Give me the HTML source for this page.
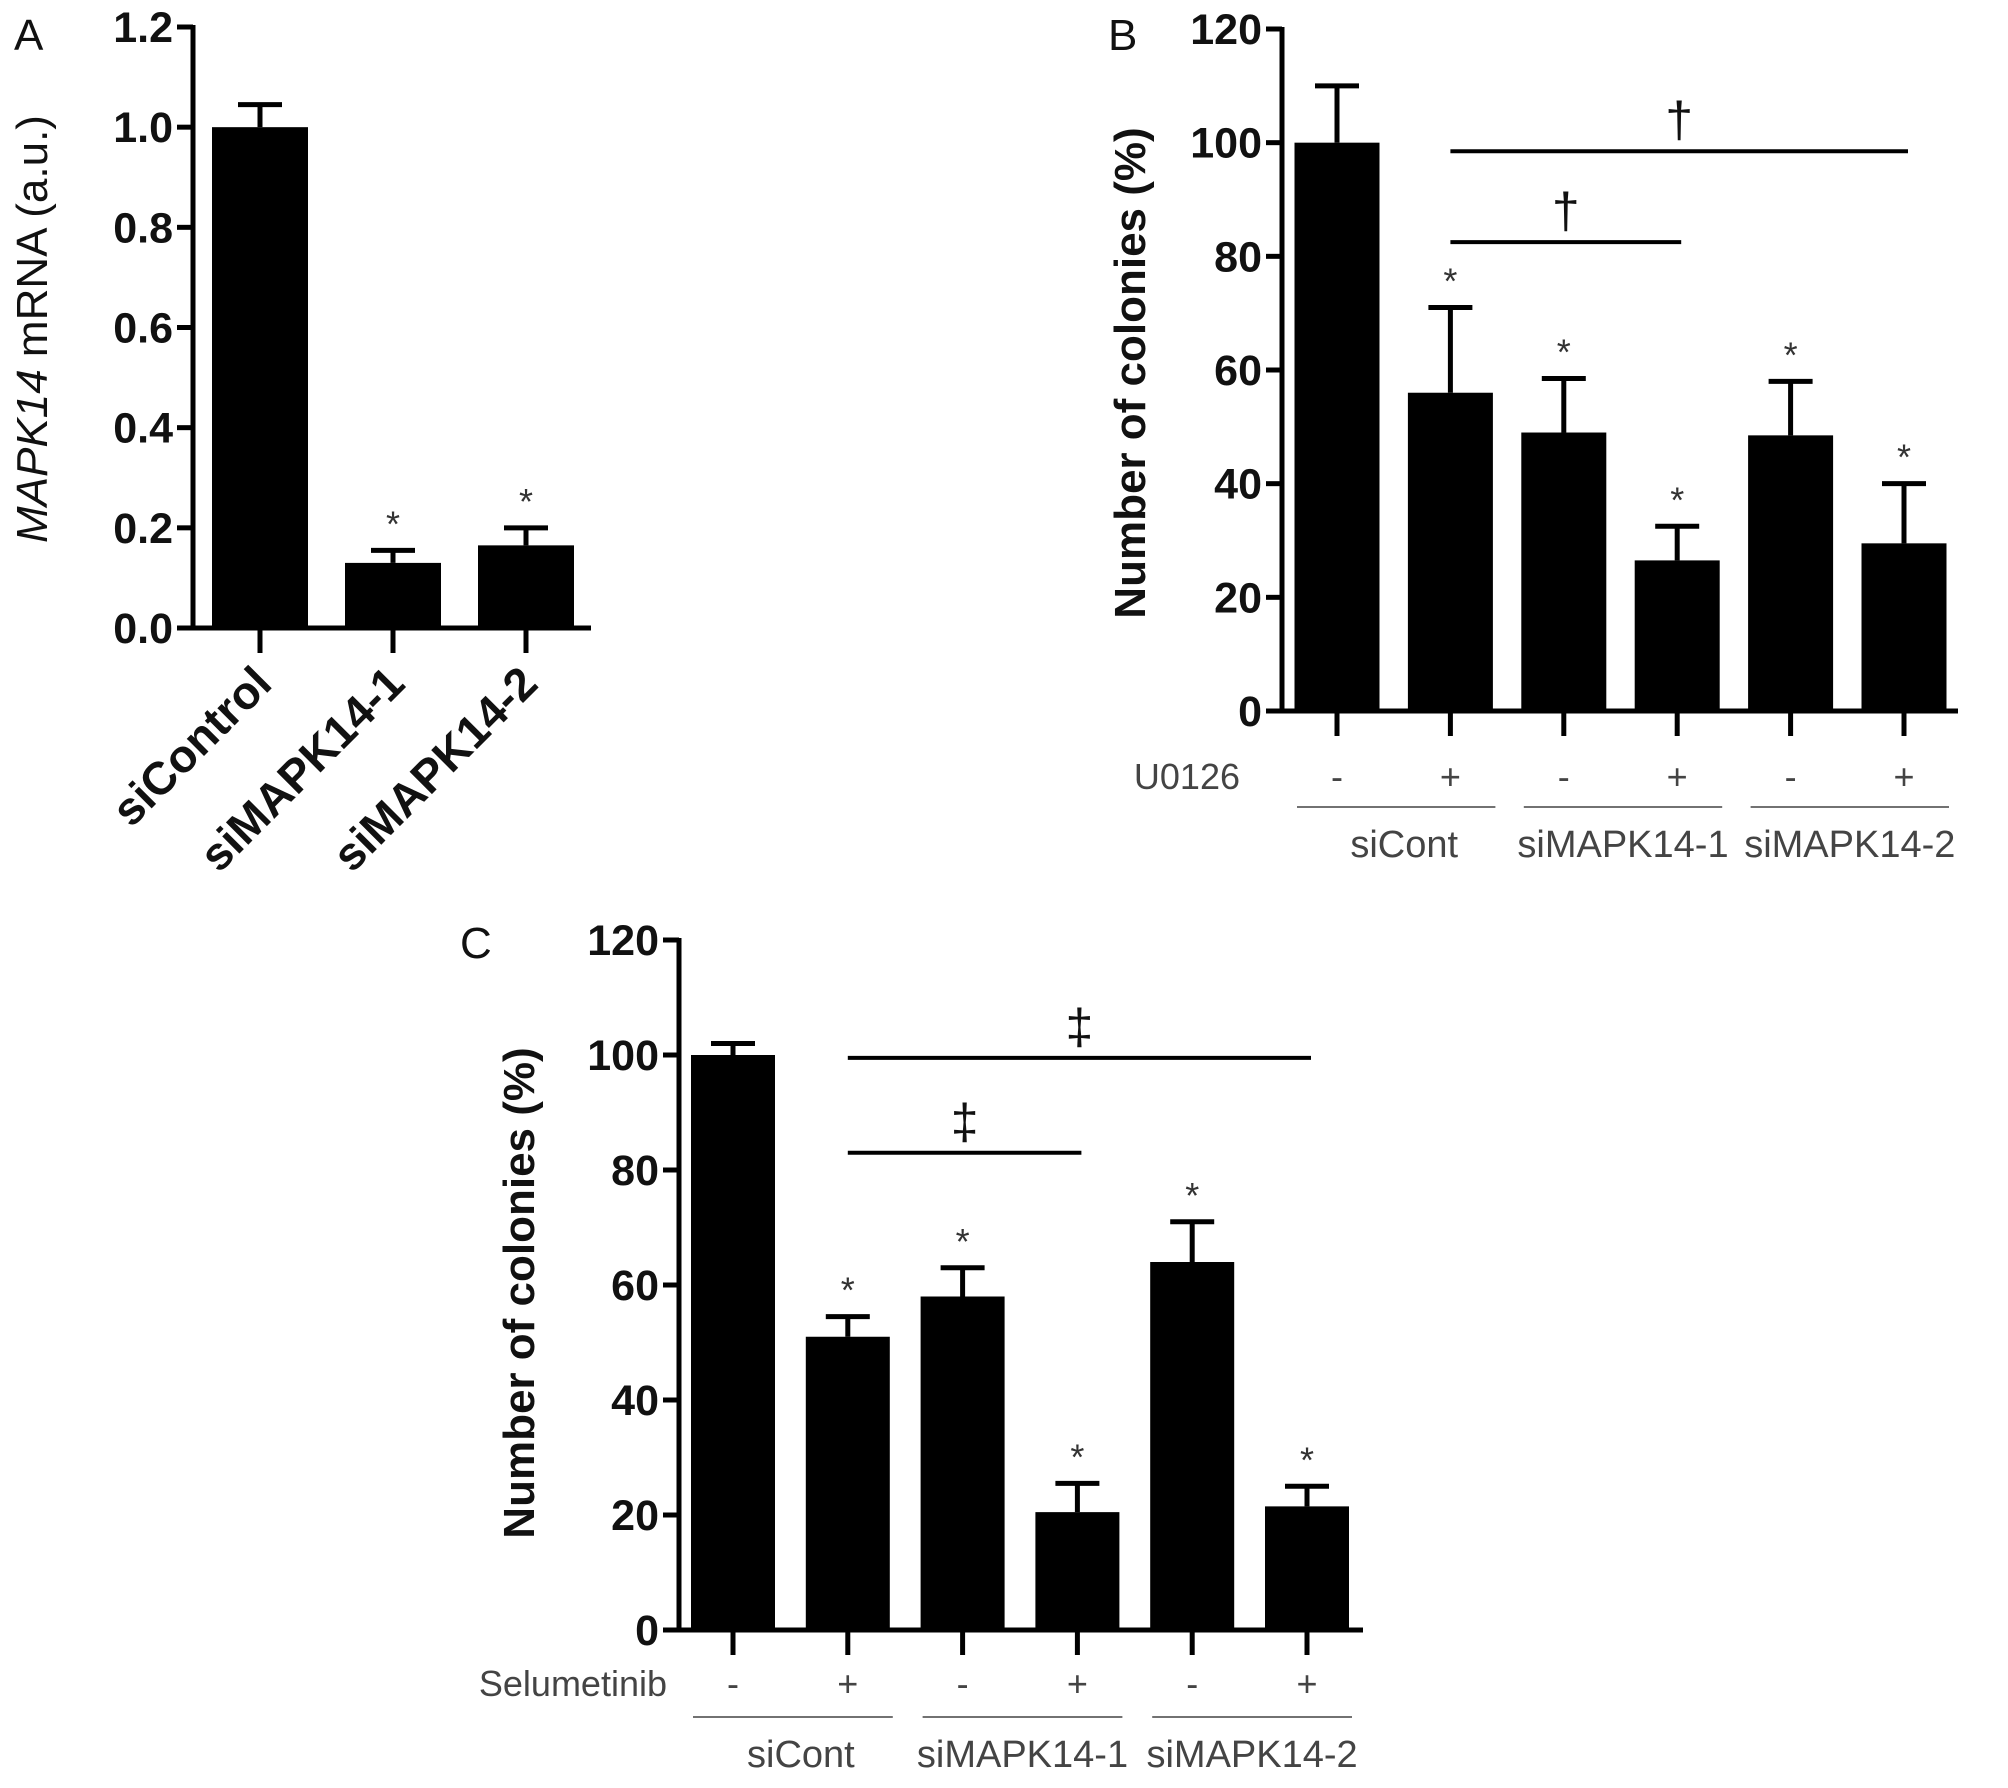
<!DOCTYPE html>
<html><head><meta charset="utf-8"><style>
html,body{margin:0;padding:0;background:#fff;}
svg{display:block;}
text{font-family:"Liberation Sans",Arial,sans-serif;}
</style></head><body>
<svg id="fig" width="2008" height="1788" viewBox="0 0 2008 1788" xmlns="http://www.w3.org/2000/svg"></svg>
<script>
// Panel A data
const aCategories = ["siControl","siMAPK14-1","siMAPK14-2"];
const aValues = [1.0, 0.13, 0.165];
const aErrors = [0.045, 0.025, 0.035];
const aStars = [false, true, true];
const aTicks = ["0.0","0.2","0.4","0.6","0.8","1.0","1.2"];
// Panel B data
const bTreat = ["-","+","-","+","-","+"];
const bGroups = ["siCont","siMAPK14-1","siMAPK14-2"];
const bValues = [100, 56, 49, 26.5, 48.5, 29.5];
const bErrors = [10, 15, 9.5, 6, 9.5, 10.5];
const bStars = [false, true, true, true, true, true];
const bTicks = ["0","20","40","60","80","100","120"];
// Panel C data
const cTreat = ["-","+","-","+","-","+"];
const cGroups = ["siCont","siMAPK14-1","siMAPK14-2"];
const cValues = [100, 51, 58, 20.5, 64, 21.5];
const cErrors = [2, 3.5, 5, 5, 7, 3.5];
const cStars = [false, true, true, true, true, true];
const cTicks = ["0","20","40","60","80","100","120"];

const NS = "http://www.w3.org/2000/svg";
const svg = document.getElementById("fig");
function el(tag, attrs, parent, txt){
  const e = document.createElementNS(NS, tag);
  for (const k in attrs) e.setAttribute(k, attrs[k]);
  if (txt !== undefined) e.textContent = txt;
  (parent || svg).appendChild(e);
  return e;
}
function line(x1,y1,x2,y2,w,p,c){ return el("line",{x1,y1,x2,y2,stroke:c||"#000","stroke-width":w},p); }

function panel(o){
  const g = el("g",{},svg);
  
  
  const ys = v => o.y0 - (v / o.vmax) * (o.y0 - o.ytop);
  const n = o.values.length;
  const xs = i => o.x0 + o.xpad + i * o.step;
  for (let i=0;i<n;i++){
    const cx = xs(i), top = ys(o.values[i]), et = ys(o.values[i]+o.errors[i]);
    const b = el("rect",{x:cx-o.bw/2,y:top,width:o.bw,height:o.y0-top,fill:"#000"},g);
    
    
    const e = el("g",{},g);
    
    
    line(cx,top,cx,et,5,e);
    line(cx-22,et,cx+22,et,5,e);
    if (o.stars[i]){
      const s = el("text",{x:cx,y:et-14,"font-size":36,"text-anchor":"middle",fill:"#333"},g,"*");
      
      
    }
    const t = line(cx,o.y0,cx,o.y0+25,5,g);
    
    
  }
  const ya = line(o.x0,o.ytop-2,o.x0,o.y0+2.5,5,g);
  
  
  const xa = line(o.x0-2.5,o.y0,o.xend,o.y0,5,g);
  
  
  for (let k=0;k<o.ticks.length;k++){
    const v = k * o.vmax/(o.ticks.length-1), y = ys(v);
    line(o.x0-16,y,o.x0,y,5,g);
    const tl = el("text",{x:o.x0-20,y:y+15,"font-size":43,"font-weight":"bold","text-anchor":"end",fill:"#111"},g,o.ticks[k]);
    
    
  }
  return {g, xs, ys};
}

const A = panel({name:"panel-a", x0:193, y0:628, ytop:27, vmax:1.2, xpad:67, step:133, bw:96, xend:591,
  values:aValues, errors:aErrors, stars:aStars, ticks:aTicks});
const la = el("text",{x:14,y:50,"font-size":44,fill:"#111"},A.g,"A");


const ta = el("text",{x:0,y:0,"font-size":44,"text-anchor":"middle",fill:"#111",transform:"translate(47,329) rotate(-90)"},A.g);


el("tspan",{"font-style":"italic"},ta,"MAPK14");
el("tspan",{},ta," mRNA (a.u.)");
for (let i=0;i<aCategories.length;i++){
  const cx = A.xs(i);
  const t = el("text",{x:0,y:0,"font-size":46,"font-weight":"bold","text-anchor":"end",fill:"#111",transform:`translate(${cx+14},${686}) rotate(-45)`},A.g,aCategories[i]);
  
  
}

function bcPanel(o){
  const P = panel(o);
  const lab = el("text",{x:o.labX,y:o.labY,"font-size":44,fill:"#111"},P.g,o.letter);
  
  
  const t = el("text",{x:0,y:0,"font-size":44,"font-weight":"bold","text-anchor":"middle",fill:"#111",transform:`translate(${o.titleX},${o.titleY}) rotate(-90)`},P.g,"Number of colonies (%)");
  
  
  const rl = el("text",{x:o.rowLabX,y:o.rowY+13,"font-size":36,"text-anchor":"end",fill:"#444"},P.g,o.rowLabel);
  
  
  for (let i=0;i<o.treat.length;i++){
    const s = el("text",{x:P.xs(i),y:o.rowY+13,"font-size":36,"text-anchor":"middle",fill:"#444"},P.g,o.treat[i]);
    
    
  }
  for (let j=0;j<o.groups.length;j++){
    const x1 = P.xs(2*j)-40, x2 = P.xs(2*j+1)+45;
    const gl = line(x1,o.groupLineY,x2,o.groupLineY,1.5,P.g,"#444");
    
    
    const gt = el("text",{x:(x1+x2)/2 + (j===0?8:0),y:o.groupLineY+50,"font-size":38,"text-anchor":"middle",fill:"#444"},P.g,o.groups[j]);
    
    
  }
  const br = [[1,3,o.sigLow],[1,5,o.sigHigh]];
  for (const [a,b,v] of br){
    const y = P.ys(v), x1 = P.xs(a), x2 = P.xs(b)+4;
    const l = line(x1,y,x2,y,4,P.g);
    
    
    const m = el("text",{x:(x1+x2)/2,y:y-14,"font-size":50,"text-anchor":"middle",fill:"#111"},P.g,o.mark);
    
    
  }
}
bcPanel({name:"panel-b", letter:"B", labX:1108, labY:50, x0:1282, y0:711, ytop:29, vmax:120, xpad:55, step:113.4, bw:85, xend:1958,
  values:bValues, errors:bErrors, stars:bStars, ticks:bTicks, titleX:1145, titleY:373,
  rowLabel:"U0126", rowLabX:1240, rowY:776, treat:bTreat, groups:bGroups, groupLineY:807,
  sigLow:82.5, sigHigh:98.5, mark:"†"});
bcPanel({name:"panel-c", letter:"C", labX:460, labY:958, x0:679, y0:1630, ytop:940, vmax:120, xpad:54, step:114.8, bw:84, xend:1363,
  values:cValues, errors:cErrors, stars:cStars, ticks:cTicks, titleX:534, titleY:1293,
  rowLabel:"Selumetinib", rowLabX:667, rowY:1683, treat:cTreat, groups:cGroups, groupLineY:1717,
  sigLow:83, sigHigh:99.5, mark:"‡"});
</script>
</body></html>
